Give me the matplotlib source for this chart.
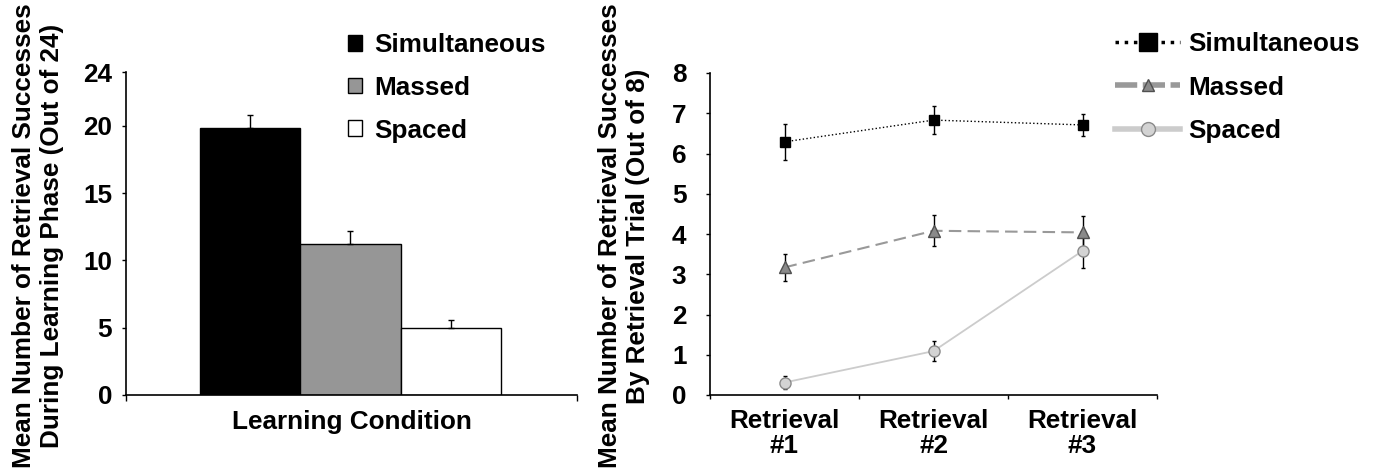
import matplotlib
matplotlib.use("Agg")
import matplotlib.pyplot as plt
from matplotlib.lines import Line2D
from matplotlib.patches import Patch

plt.rcParams['font.family'] = ['Liberation Sans', 'DejaVu Sans']
plt.rcParams['font.weight'] = 'bold'

# data
conditions = ['Simultaneous', 'Massed', 'Spaced']
learning_means = [19.85, 11.25, 4.95]
learning_err = [0.97, 0.94, 0.62]
bar_colors = ['#000000', '#969696', '#ffffff']

trials = [1, 2, 3]
trial_labels = ['Retrieval\n#1', 'Retrieval\n#2', 'Retrieval\n#3']
sim_means = [6.29, 6.83, 6.71]
sim_err = [0.44, 0.34, 0.28]
massed_means = [3.17, 4.08, 4.04]
massed_err = [0.33, 0.38, 0.41]
spaced_means = [0.31, 1.09, 3.58]
spaced_err = [0.15, 0.25, 0.43]

W, H = 1373, 472
fig = plt.figure(figsize=(W / 100, H / 100), dpi=100)
fs = 18.8

#--- left panel: bars
ax1 = fig.add_axes([126 / W, 77 / H, 451 / W, 323 / H])
xpos = range(len(conditions))
ax1.bar(xpos, learning_means, width=1.0, color=bar_colors, edgecolor='black', linewidth=1)
ax1.errorbar(xpos, learning_means, yerr=[[0, 0, 0], learning_err], fmt='none',
             ecolor='black', elinewidth=1, capsize=2)
ax1.set_xlim(-1.234, 3.254)
ax1.set_ylim(0, 24)
ax1.set_yticks([0, 5, 10, 15, 20, 24])
ax1.set_xticks([-1.234, 3.254])
ax1.set_xticklabels(['', ''])
ax1.tick_params(axis='y', length=3, width=1, pad=7, labelsize=fs)
ax1.tick_params(axis='x', length=4, width=1)
for s in ['top', 'right']:
    ax1.spines[s].set_visible(False)
for s in ['left', 'bottom']:
    ax1.spines[s].set_linewidth(1.2)
ax1.text(0.5, -0.085, 'Learning Condition', transform=ax1.transAxes,
         ha='center', va='center', fontsize=fs, fontweight='bold')

leg_handles = [Patch(facecolor=c, edgecolor='black', linewidth=1) for c in bar_colors]
ax1.legend(leg_handles, conditions, loc='upper left', bbox_to_anchor=(348 / W, 439 / H),
           bbox_transform=fig.transFigure, frameon=False, fontsize=fs,
           handlelength=0.55, handleheight=0.55, handletextpad=0.45, borderpad=0,
           borderaxespad=0, labelspacing=0.72)

fig.text(38 / W, 0.5, 'Mean Number of Retrieval Successes\nDuring Learning Phase (Out of 24)',
         rotation=90, ha='center', va='center', fontsize=fs, fontweight='bold',
         multialignment='center')

#--- right panel: lines
ax2 = fig.add_axes([710 / W, 77 / H, 447 / W, 322 / H])
ax2.errorbar(trials, sim_means, yerr=sim_err, color='black', linestyle=':', linewidth=1,
             marker='s', markersize=7, markerfacecolor='black', markeredgecolor='black',
             ecolor='black', elinewidth=1, capsize=1.5, zorder=3)
ax2.errorbar(trials, massed_means, yerr=massed_err, color='#999999', linestyle=(0, (6, 3)),
             linewidth=1.5, marker='^', markersize=8, markerfacecolor='#8a8a8a',
             markeredgecolor='#505050', ecolor='black', elinewidth=1, capsize=1.5, zorder=3)
ax2.errorbar(trials, spaced_means, yerr=spaced_err, color='#cccccc', linestyle='-',
             linewidth=1.3, marker='o', markersize=8, markerfacecolor='#d3d3d3',
             markeredgecolor='#8a8a8a', ecolor='black', elinewidth=1, capsize=1.5, zorder=3)
ax2.set_xlim(0.5, 3.5)
ax2.set_ylim(0, 8)
ax2.set_yticks(range(0, 9))
ax2.set_xticks(trials)
ax2.set_xticklabels(trial_labels, linespacing=1.05)
ax2.set_xticks([0.5, 1.5, 2.5, 3.5], minor=True)
ax2.tick_params(axis='x', which='major', length=0, pad=10, labelsize=fs)
ax2.tick_params(axis='x', which='minor', length=3, width=1)
ax2.tick_params(axis='y', length=3, width=1, pad=14, labelsize=fs)
for s in ['top', 'right']:
    ax2.spines[s].set_visible(False)
for s in ['left', 'bottom']:
    ax2.spines[s].set_linewidth(1.2)

line_handles = [
    Line2D([], [], color='black', linestyle=':', linewidth=2.5, marker='s', markersize=13,
           markerfacecolor='black', markeredgecolor='black'),
    Line2D([], [], color='#999999', linestyle=(0, (4, 1)), linewidth=4, marker='^',
           markersize=9, markerfacecolor='#8a8a8a', markeredgecolor='#505050'),
    Line2D([], [], color='#cccccc', linestyle='-', linewidth=4, marker='o', markersize=10,
           markerfacecolor='#d3d3d3', markeredgecolor='#8a8a8a'),
]
ax2.legend(line_handles, conditions, loc='upper left', bbox_to_anchor=(1115 / W, 440 / H),
           bbox_transform=fig.transFigure, frameon=False, fontsize=fs,
           handlelength=2.5, handletextpad=0.3, borderpad=0, borderaxespad=0,
           labelspacing=0.75)

fig.text(624 / W, 0.5, 'Mean Number of Retrieval Successes\nBy Retrieval Trial (Out of 8)',
         rotation=90, ha='center', va='center', fontsize=fs, fontweight='bold',
         multialignment='center')

fig.savefig('out.png', dpi=100, facecolor='white')
